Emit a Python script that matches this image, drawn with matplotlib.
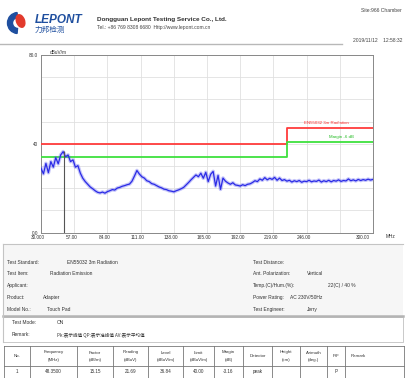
import numpy as np
import matplotlib.pyplot as plt
from matplotlib.patches import Rectangle, Wedge, Ellipse
from matplotlib.transforms import ScaledTranslation

plt.rcParams['font.family'] = ['Liberation Sans', 'Noto Sans CJK SC', 'DejaVu Sans']

W, H = 405, 378

# measured trace, 30 MHz - 300 MHz, dBuV/m
level = [
    29.0, 26.5, 31.2, 27.0, 32.0, 29.5, 33.8, 31.0, 35.0, 36.5,
    34.2, 35.0, 32.0, 32.8, 29.5, 30.2, 26.8, 24.5, 23.0, 21.8,
    20.6, 19.8, 18.9, 18.2, 17.9, 18.3, 17.8, 18.5, 18.9, 19.4,
    19.2, 20.1, 20.4, 20.9, 21.2, 21.6, 21.9, 23.2, 25.5, 28.0,
    26.4, 25.2, 24.6, 23.4, 23.0, 22.1, 21.8, 21.2, 20.6, 20.2,
    19.6, 19.4, 18.9, 18.7, 18.4, 18.9, 19.3, 19.8, 20.4, 21.5,
    22.6, 23.8, 24.9, 26.0, 25.2, 26.8, 24.5, 27.2, 23.0, 26.3,
    27.6, 21.0, 25.8, 19.5, 24.6, 23.2, 22.4, 21.8, 22.5, 21.5,
    21.3, 21.0, 21.6, 21.2, 21.8, 22.0, 22.6, 23.4, 23.0, 24.2,
    23.6, 24.8, 23.8, 24.5, 24.0, 24.9, 23.6, 24.6, 23.5, 23.9,
    23.2, 23.6, 22.8, 23.4, 23.0, 23.5, 22.7, 23.2, 23.0, 23.6,
    22.9, 23.3, 23.1, 23.7, 22.8, 23.4, 23.0, 23.6, 22.9, 23.5,
    23.2, 23.8, 23.1, 23.5, 23.3, 24.2, 23.4, 23.8, 23.3, 24.0,
    23.5, 23.9, 23.6, 24.1, 23.7, 24.0,
]
freq = np.linspace(30, 300, len(level))

limit_freq = [30, 230, 230, 300]
limit_level = [40, 40, 47, 47]
margin_db = 6

peak_freq = 48.35
peak_factor = 15.15
peak_reading = 21.69
peak_limit = 40.00
peak_level = peak_reading + peak_factor

xticks = [30, 57, 84, 111, 138, 165, 192, 219, 246, 273, 300]
xtick_labels = ['30.000', '57.00', '84.00', '111.00', '138.00', '165.00',
                '192.00', '219.00', '246.00', '', '300.00']

info_left = [('Test Standard:', 'EN55032 3m Radiation'),
             ('Test Item:', 'Radiation Emission'),
             ('Applicant:', ''),
             ('Product:', 'Adapter'),
             ('Model No.:', 'Touch Pad')]
info_right = [('Test Distance:', ''),
              ('Ant. Polarization:', 'Vertical'),
              ('Temp.(C)/Hum.(%):', '22(C) / 40 %'),
              ('Power Rating:', 'AC 230V/50Hz'),
              ('Test Engineer:', 'Jerry')]

table_head = [('No.', ''), ('Frequency', '(MHz)'), ('Factor', '(dB/m)'),
              ('Reading', '(dBuV)'), ('Level', '(dBuV/m)'), ('Limit', '(dBuV/m)'),
              ('Margin', '(dB)'), ('Detector', ''), ('Height', '(cm)'),
              ('Azimuth', '(deg.)'), ('P/F', ''), ('Remark', '')]

fig = plt.figure(figsize=(W / 100, H / 100), dpi=100)

# page layer in pixel units
bg = fig.add_axes([0, 0, 1, 1])
bg.set_xlim(0, W)
bg.set_ylim(H, 0)
bg.axis('off')

# header
bg.add_patch(Wedge((18, 23), 10.5, 95, 265, width=5, color='#1f4f9f'))
bg.add_patch(Ellipse((20.5, 21), 8, 13, angle=-20, color='#e23a2c'))
bg.text(35, 20, 'LEPONT', color='#1f4f9f', fontsize=8.5, fontweight='bold',
        style='italic', va='center')
bg.text(35, 30, '力邦检测', color='#1f4f9f', fontsize=5.5, va='center',
        family=['Noto Sans CJK SC'])
bg.text(97, 19, 'Dongguan Lepont Testing Service Co., Ltd.', fontsize=4.6,
        fontweight='bold', color='#333333', va='center')
bg.text(97, 28, 'Tel.: +86 769 8308 6680  Http://www.lepont.com.cn', fontsize=3.6,
        color='#444444', va='center')
bg.text(402, 10, 'Site:966 Chamber', fontsize=3.6, color='#444444', ha='right', va='center')
bg.text(402, 40, '2019/11/12    12:58:32', fontsize=3.6, color='#444444', ha='right', va='center')
bg.plot([0, 342], [44, 44], color='#b8b8b8', lw=1.0)

# chart
ax = fig.add_axes([41 / W, 1 - 232.7 / H, 332 / W, 177.7 / H])
ax.set_xlim(30, 300)
ax.set_ylim(0, 80)
ax.set_xticks(xticks)
ax.set_xticklabels(xtick_labels)
ax.set_yticks([0, 40, 80])
ax.set_yticklabels(['0.0', '40', '80.0'])
ax.set_yticks(range(0, 81, 10), minor=True)
ax.tick_params(which='both', length=0, labelsize=3.4, labelcolor='#333333', pad=2)
ax.grid(True, which='both', color='#e0e0e0', lw=0.6)
for s in ax.spines.values():
    s.set_color('#888888')
    s.set_linewidth(0.7)
shift = ScaledTranslation(-2 / 72, 0, fig.dpi_scale_trans)
for lbl in ax.get_xticklabels():
    lbl.set_transform(lbl.get_transform() + shift)
ax.get_xticklabels()[-1].set_ha('right')

ax.plot(limit_freq, limit_level, color='#ff3b3b', lw=1.3, zorder=3)
ax.plot(limit_freq, [v - margin_db for v in limit_level], color='#3ee03e', lw=1.3, zorder=3)
# soft halo under the sweep so the noisy trace reads as a band
ax.plot(freq, level, color='#5a5af0', lw=2.6, alpha=0.35, zorder=4)
ax.plot(freq, level, color='#2b2be6', lw=0.9, zorder=4)
ax.vlines(peak_freq, 0, peak_level, color='#555555', lw=0.8, zorder=5)
ax.text(262, 49.5, 'EN55032 3m Radiation', color='#ff3030', fontsize=3.2, ha='center', va='center')
ax.text(274, 43.2, 'Margin -6 dB', color='#22bb22', fontsize=3.2, ha='center', va='center')

bg.text(50, 52, 'dBuV/m', fontsize=3.4, color='#333333', va='center')
bg.text(386, 236, 'MHz', fontsize=3.4, color='#333333', va='center')

# test information panel
bg.add_patch(Rectangle((3, 244), 400, 72, fc='#f6f6f6', ec='none'))
bg.plot([3, 403], [244, 244], color='#c4c4c4', lw=0.8)
bg.plot([3, 403], [315.5, 315.5], color='#b4b4b4', lw=1.8)
bg.plot([3, 3], [244, 342], color='#c4c4c4', lw=0.8)
left_val_x = [67, 50, 50, 43, 47]
right_val_x = [310, 307, 328, 290, 307]
for i, ((k, v), (k2, v2)) in enumerate(zip(info_left, info_right)):
    y = 262 + 11.8 * i
    bg.text(7, y, k, fontsize=3.5, color='#333333', va='center')
    bg.text(left_val_x[i], y, v, fontsize=3.5, color='#333333', va='center')
    bg.text(253, y, k2, fontsize=3.5, color='#333333', va='center')
    bg.text(right_val_x[i], y, v2, fontsize=3.5, color='#333333', va='center')

bg.add_patch(Rectangle((3, 316.5), 400, 25.5, fc='white', ec='#c0c0c0', lw=0.6))
bg.text(12, 323, 'Test Mode:', fontsize=3.5, color='#333333', va='center')
bg.text(57, 323, 'ON', fontsize=3.5, color='#333333', va='center')
bg.text(12, 335, 'Remark:', fontsize=3.5, color='#333333', va='center')
bg.text(57, 335, 'Pk:表示峰值 QP:表示准峰值 AV:表示平均值', fontsize=3.3, color='#333333',
        va='center', family=['Noto Sans CJK SC', 'DejaVu Sans'])

# result table
peak_row = ['1', f'{peak_freq:.4f}', f'{peak_factor:.2f}', f'{peak_reading:.2f}',
            f'{peak_level:.2f}', f'{peak_limit:.2f}', f'{peak_level - peak_limit:.2f}',
            'peak', '', '', 'P', '']
col_x = [4, 30, 77, 113, 148, 183, 214, 243, 272, 300, 327, 345, 404]
top, sep, bottom = 346, 366, 378
for x in col_x:
    bg.plot([x, x], [top, bottom], color='#777777', lw=0.6)
for y in (top, sep):
    bg.plot([col_x[0], col_x[-1]], [y, y], color='#777777', lw=0.6)
for i, ((h1, h2), val) in enumerate(zip(table_head, peak_row)):
    cx = (col_x[i] + col_x[i + 1]) / 2
    if i == len(table_head) - 1:
        bg.text(col_x[i] + 6, 356, h1, fontsize=3.2, color='#333333', va='center')
    elif h2:
        bg.text(cx, 352.5, h1, fontsize=3.2, color='#333333', ha='center', va='center')
        bg.text(cx, 359.5, h2, fontsize=3.2, color='#333333', ha='center', va='center')
    else:
        bg.text(cx, 356, h1, fontsize=3.2, color='#333333', ha='center', va='center')
    bg.text(cx, 371.5, val, fontsize=3.3, color='#333333', ha='center', va='center')

fig.savefig('out.png', dpi=100)
